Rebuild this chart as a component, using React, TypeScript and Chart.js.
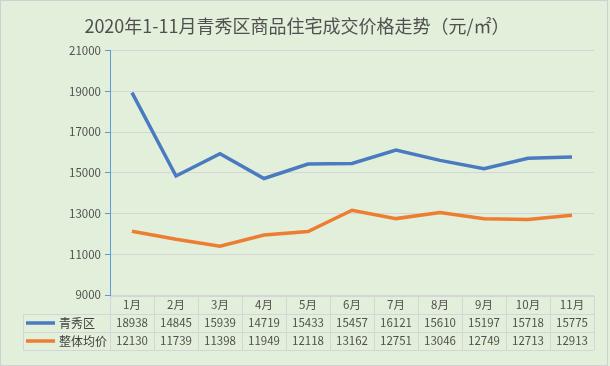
import React, { useEffect, useRef } from "react";
import { Chart, registerables } from "chart.js";

Chart.register(...registerables);

const titleText = "2020年1-11月青秀区商品住宅成交价格走势（元/㎡）";
const months = ["1月", "2月", "3月", "4月", "5月", "6月", "7月", "8月", "9月", "10月", "11月"];
const seriesNames = ["青秀区", "整体均价"];
const qingxiu = [18938, 14845, 15939, 14719, 15433, 15457, 16121, 15610, 15197, 15718, 15775];
const overall = [12130, 11739, 11398, 11949, 12118, 13162, 12751, 13046, 12749, 12713, 12913];
const yMin = 9000;
const yMax = 21000;
const yStep = 2000;

const BG = "#E2EFDA";
const TEXT = "#505050";
const BLUE = "#4A7BC1";
const ORANGE = "#ED7D31";
const GRID = "#D5D5D8";
const FONT = "'Noto Sans CJK SC', 'Noto Sans', sans-serif";

export default function App() {
  const ref = useRef<HTMLCanvasElement | null>(null);

  useEffect(() => {
    const canvas = ref.current;
    if (!canvas) return;

    const bgPlugin = {
      id: "bg",
      beforeDraw(chart: any) {
        const { ctx, width, height } = chart;
        ctx.save();
        ctx.fillStyle = BG;
        ctx.fillRect(0, 0, width, height);
        ctx.restore();
      },
    };

    const tablePlugin = {
      id: "dataTable",
      afterDraw(chart: any) {
        const { ctx, chartArea, scales, width, height } = chart;
        const x = scales.x;
        const left = chartArea.left;
        const right = chartArea.right;
        const band = x.getPixelForValue(1) - x.getPixelForValue(0);
        const top = Math.round(chartArea.bottom) + 1;
        const rowH = 18;
        const labelLeft = 23;
        ctx.save();
        ctx.strokeStyle = GRID;
        ctx.lineWidth = 1;
        ctx.beginPath();
        ctx.moveTo(left, top + 0.5);
        ctx.lineTo(right, top + 0.5);
        for (let r = 1; r <= 3; r++) {
          ctx.moveTo(labelLeft, top + r * rowH + 0.5);
          ctx.lineTo(right, top + r * rowH + 0.5);
        }
        for (let i = 0; i <= months.length; i++) {
          const xx = Math.round(left + i * band) + 0.5;
          ctx.moveTo(xx, top);
          ctx.lineTo(xx, top + 3 * rowH);
        }
        ctx.moveTo(labelLeft + 0.5, top + rowH);
        ctx.lineTo(labelLeft + 0.5, top + 3 * rowH);
        ctx.stroke();

        ctx.fillStyle = TEXT;
        ctx.textAlign = "center";
        ctx.textBaseline = "middle";
        ctx.font = `11.5px ${FONT}`;
        const rows = [qingxiu, overall];
        months.forEach((m, i) => {
          const cx = x.getPixelForValue(i);
          ctx.fillText(m, cx, top + rowH / 2);
          rows.forEach((arr, r) => {
            ctx.fillText(String(arr[i]), cx, top + (r + 1) * rowH + rowH / 2);
          });
        });

        const colors = [BLUE, ORANGE];
        seriesNames.forEach((name, r) => {
          const cy = top + (r + 1) * rowH + rowH / 2;
          ctx.strokeStyle = colors[r];
          ctx.lineWidth = 3.5;
          ctx.beginPath();
          ctx.moveTo(26, cy);
          ctx.lineTo(55, cy);
          ctx.stroke();
          ctx.fillStyle = "#404040";
          ctx.font = `12px ${FONT}`;
          ctx.textAlign = "left";
          ctx.fillText(name, 59, cy);
        });

        ctx.strokeStyle = "#D0D0D0";
        ctx.lineWidth = 1;
        ctx.strokeRect(0.5, 0.5, width - 3, height - 1);
        ctx.restore();
      },
    };

    const chart = new Chart(canvas, {
      type: "line",
      data: {
        labels: months,
        datasets: [
          {
            label: seriesNames[0],
            data: qingxiu,
            borderColor: BLUE,
            backgroundColor: BLUE,
            borderWidth: 3.5,
            pointRadius: 0,
            tension: 0,
          },
          {
            label: seriesNames[1],
            data: overall,
            borderColor: ORANGE,
            backgroundColor: ORANGE,
            borderWidth: 3.5,
            pointRadius: 0,
            tension: 0,
          },
        ],
      },
      options: {
        responsive: false,
        animation: false,
        devicePixelRatio: 1,
        layout: { padding: { top: 0, right: 16, bottom: 71, left: 0 } },
        plugins: {
          legend: { display: false },
          tooltip: { enabled: false },
          title: {
            display: true,
            text: titleText,
            color: TEXT,
            font: { family: FONT, size: 18, weight: "normal" },
            padding: { top: 15, bottom: 14 },
          },
        },
        scales: {
          x: {
            type: "category",
            display: false,
            offset: true,
          },
          y: {
            min: yMin,
            max: yMax,
            afterFit(scale: any) {
              scale.width = 110;
            },
            ticks: {
              stepSize: yStep,
              color: TEXT,
              padding: 4,
              font: { family: FONT, size: 11.5 },
              callback: (v: any) => String(v),
            },
            grid: {
              color: GRID,
              tickColor: "#5B9BD5",
              tickLength: 5,
              lineWidth: 1,
            },
            border: { color: "#5B9BD5", width: 1 },
          },
        },
      },
      plugins: [bgPlugin, tablePlugin],
    } as any);

    return () => chart.destroy();
  }, []);

  return (
    <div style={{ position: "absolute", left: 0, top: 0, width: 610, height: 366 }}>
      <canvas ref={ref} width={610} height={366} style={{ display: "block" }} />
    </div>
  );
}
